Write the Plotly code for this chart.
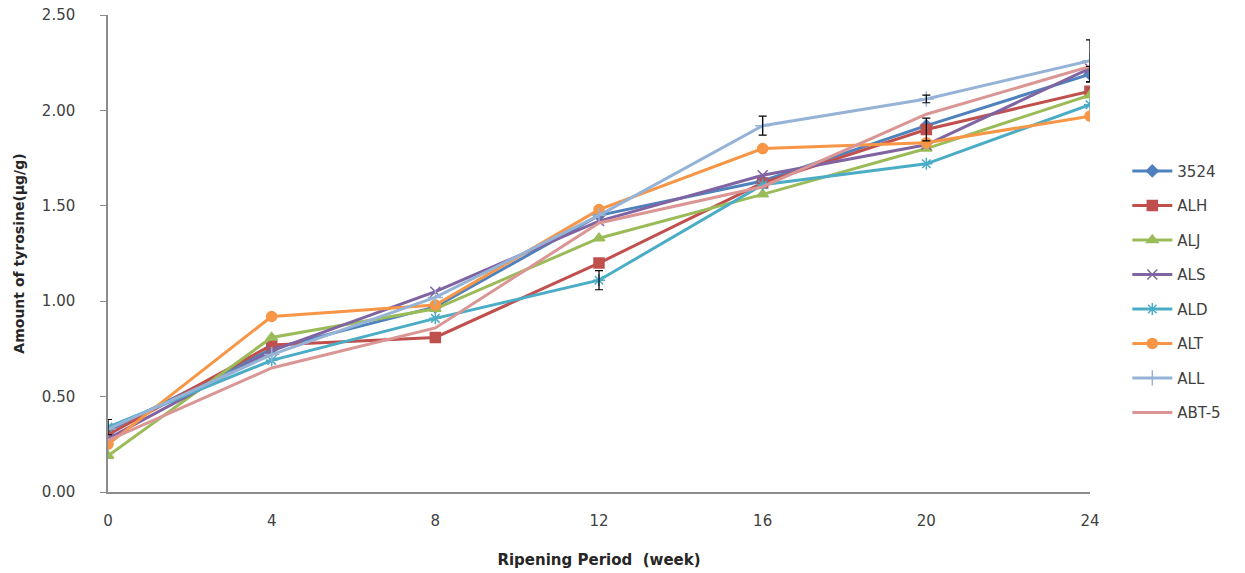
import plotly.graph_objects as go

weeks = [0, 4, 8, 12, 16, 20, 24]
series_names = ["3524", "ALH", "ALJ", "ALS", "ALD", "ALT", "ALL", "ABT-5"]
v_3524 = [0.32, 0.75, 0.97, 1.45, 1.63, 1.92, 2.19]
v_ALH = [0.30, 0.77, 0.81, 1.20, 1.62, 1.90, 2.10]
v_ALJ = [0.19, 0.81, 0.96, 1.33, 1.56, 1.80, 2.08]
v_ALS = [0.28, 0.74, 1.05, 1.42, 1.66, 1.82, 2.22]
v_ALD = [0.34, 0.69, 0.91, 1.11, 1.61, 1.72, 2.03]
v_ALT = [0.25, 0.92, 0.98, 1.48, 1.80, 1.83, 1.97]
v_ALL = [0.33, 0.72, 1.02, 1.45, 1.92, 2.06, 2.26]
v_ABT5 = [0.27, 0.65, 0.86, 1.41, 1.60, 1.98, 2.23]
values = [v_3524, v_ALH, v_ALJ, v_ALS, v_ALD, v_ALT, v_ALL, v_ABT5]

colors = ["#4F81BD", "#C0504D", "#9BBB59", "#8064A2", "#4BACC6", "#F79646", "#95B3D7", "#DA9694"]
symbols = ["diamond", "square", "triangle-up", "x-thin", "asterisk", "circle", "cross-thin", None]
msizes = [9, 10, 10, 10, 10, 10, 11, 0]

# error bars: series, week, value
err_series = ["ALD", "ALD", "ALL", "ALL", "ALH", "3524", "ALL"]
err_weeks = [0, 12, 16, 20, 20, 24, 24]
err_vals = [0.04, 0.05, 0.05, 0.02, 0.06, 0.04, 0.11]

fig = go.Figure()
for i, name in enumerate(series_names):
    if symbols[i] is None:
        fig.add_trace(go.Scatter(
            x=weeks, y=values[i], name=name, mode="lines",
            line=dict(color=colors[i], width=3), legendgroup=name,
        ))
    else:
        fig.add_trace(go.Scatter(
            x=weeks, y=values[i], name=name, mode="lines+markers",
            line=dict(color=colors[i], width=3),
            marker=dict(symbol=symbols[i], size=msizes[i], color=colors[i],
                        line=dict(color=colors[i], width=1.5)),
            legendgroup=name,
        ))

# error bars as invisible-marker traces
for s, w, e in zip(err_series, err_weeks, err_vals):
    idx = series_names.index(s)
    yv = values[idx][weeks.index(w)]
    fig.add_trace(go.Scatter(
        x=[w], y=[yv], mode="markers", showlegend=False,
        marker=dict(size=1, opacity=0),
        error_y=dict(type="data", array=[e], color="black", thickness=1.2, width=4),
        hoverinfo="skip",
    ))

fig.update_layout(
    width=1245, height=573,
    margin=dict(l=108, r=155, t=15, b=81, autoexpand=False),
    paper_bgcolor="white", plot_bgcolor="white",
    font=dict(family="DejaVu Sans", size=15, color="#404040"),
    legend=dict(x=1.038, xanchor="left", y=0.42, yanchor="middle",
                font=dict(family="DejaVu Sans", size=15, color="#404040"),
                tracegroupgap=12, traceorder="grouped", itemwidth=40),
    showlegend=True,
)
fig.update_xaxes(
    range=[0, 24], tickvals=weeks, ticktext=[str(w) for w in weeks],
    showgrid=False, zeroline=False, showline=True, linecolor="#8C8C8C", linewidth=1.5,
    ticks="", ticklabelstandoff=14, tickfont=dict(size=15, color="#404040"),
    automargin=False,
    title=dict(text="Ripening Period  (week)", font=dict(family="DejaVu Sans", size=15, color="#262626", weight="bold"), standoff=26),
)
fig.update_yaxes(
    range=[0, 2.5], tickvals=[0, 0.5, 1.0, 1.5, 2.0, 2.5], tickformat=".2f",
    showgrid=False, zeroline=False, showline=True, linecolor="#8C8C8C", linewidth=1.5,
    ticks="outside", ticklen=6, tickcolor="#8C8C8C", ticklabelstandoff=22,
    tickfont=dict(size=15, color="#404040"), automargin=False,
    title=dict(text="Amount of tyrosine(μg/g)", font=dict(family="DejaVu Sans", size=14, color="#262626", weight="bold"), standoff=14),
)

fig.write_html("out.html")
